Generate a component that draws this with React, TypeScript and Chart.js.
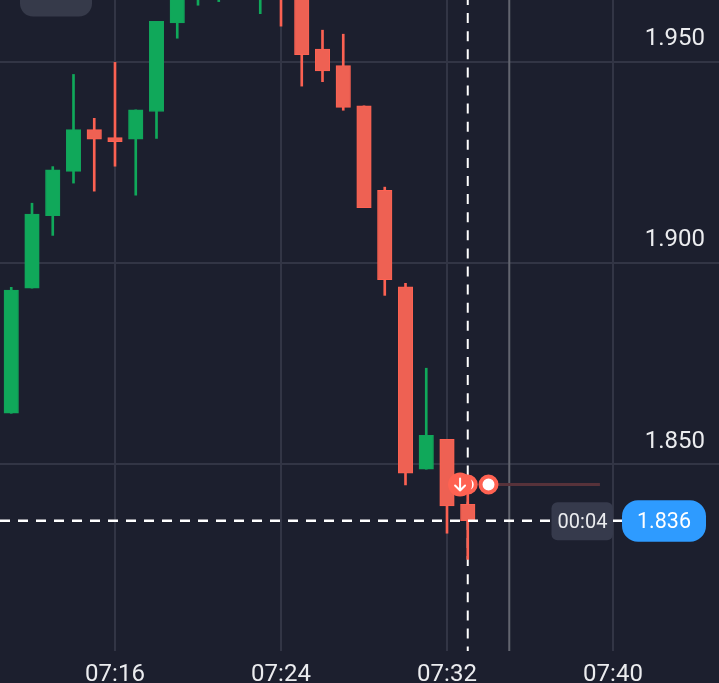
import React, { useEffect, useRef } from "react";
import { Chart, registerables } from "chart.js";

Chart.register(...registerables);

// minutes after 07:00
const minutes = [11, 12, 13, 14, 15, 16, 17, 18, 19, 20, 21, 22, 23, 24, 25, 26, 27, 28, 29, 30, 31, 32, 33];
const opens = [1.8627, 1.8938, 1.9118, 1.9228, 1.9332, 1.9312, 1.9308, 1.9377, 1.9597, 1.968, 1.97, 1.972, 1.97, 1.978, 1.975, 1.9532, 1.9491, 1.9391, 1.9181, 1.8941, 1.8488, 1.8562, 1.8401];
const closes = [1.8933, 1.9122, 1.9232, 1.9332, 1.9308, 1.9302, 1.9381, 1.9601, 1.972, 1.975, 1.977, 1.978, 1.978, 1.97, 1.9518, 1.9478, 1.9387, 1.9138, 1.8959, 1.8478, 1.8572, 1.8397, 1.836];
const highs = [1.894, 1.9149, 1.924, 1.9469, 1.936, 1.9499, 1.9381, 1.9601, 1.975, 1.978, 1.979, 1.98, 1.981, 1.982, 1.978, 1.9579, 1.9569, 1.9391, 1.9189, 1.895, 1.8739, 1.8562, 1.845];
const lows = [1.8627, 1.8938, 1.9069, 1.9199, 1.9179, 1.9241, 1.9169, 1.931, 1.9559, 1.9641, 1.965, 1.969, 1.962, 1.9589, 1.944, 1.9451, 1.938, 1.9138, 1.892, 1.8449, 1.8488, 1.8329, 1.8264];

const xTicks = [16, 24, 32, 40];
const yTicks = [1.85, 1.9, 1.95];
const currentPrice = 1.836;
const currentMinute = 33;
const expiryMinute = 35;
const tradePrice = 1.845;
const tradeEntryMinute = 32.63;
const tradeMarkMinute = 34;
const tradeEndMinute = 39.37;
const countdown = "00:04";

const BG = "#1c1f2e";
const GRID = "#323545";
const RED = "#ee6153";
const RED_EDGE = "#ff6252";
const GREEN = "#10a85a";
const GREEN_EDGE = "#12a45b";
const TEXT = "#ebecef";
const FONT = "Roboto";

const xMin = 10.458;
const xMax = 45.108;
const yMax = 1.9654;
const yMin = 1.80363;
const labelYMax = 1.95975;
const labelYMin = 1.79798;

const rr = (ctx: CanvasRenderingContext2D, x: number, y: number, w: number, h: number, r: number, fill: string) => {
  ctx.beginPath();
  ctx.roundRect(x, y, w, h, r);
  ctx.fillStyle = fill;
  ctx.fill();
};

const noPadding = (s: any) => {
  s.paddingTop = 0;
  s.paddingBottom = 0;
  s.paddingLeft = 0;
  s.paddingRight = 0;
};

const overlay = {
  id: "overlay",
  afterDatasetsDraw(chart: any) {
    const { ctx, scales } = chart;
    const px = scales.x.getPixelForValue(tradeEntryMinute);
    const py = scales.y.getPixelForValue(tradePrice);
    ctx.save();
    // arrow in the trade marker
    ctx.strokeStyle = "#ffffff";
    ctx.lineWidth = 2;
    ctx.lineCap = "round";
    ctx.lineJoin = "round";
    ctx.beginPath();
    ctx.moveTo(px, py - 6);
    ctx.lineTo(px, py + 6);
    ctx.moveTo(px - 5, py + 1);
    ctx.lineTo(px, py + 6);
    ctx.lineTo(px + 5, py + 1);
    ctx.stroke();

    // top chip
    rr(ctx, 20, -20, 72, 36.5, 13, "#363a4a");

    // countdown and price labels
    const cy = scales.y.getPixelForValue(currentPrice);
    rr(ctx, 551.5, cy - 18.5, 61.5, 38, 6, "#363a4c");
    rr(ctx, 622, cy - 20.5, 84, 41.5, 16, "#2e9bff");
    ctx.textAlign = "center";
    ctx.textBaseline = "middle";
    ctx.fillStyle = TEXT;
    ctx.font = `20px ${FONT}`;
    ctx.fillText(countdown, 582.5, cy + 2);
    ctx.fillStyle = "#ffffff";
    ctx.font = `21.5px ${FONT}`;
    ctx.fillText(currentPrice.toFixed(3), 664, cy + 1.5);
    ctx.restore();
  },
};

export default function App() {
  const ref = useRef<HTMLCanvasElement>(null);

  useEffect(() => {
    if (!ref.current) return;
    const isUp = (i: number) => closes[i] >= opens[i];
    const bodyFill = minutes.map((_, i) => (isUp(i) ? GREEN : RED));
    const bodyEdge = minutes.map((_, i) => (isUp(i) ? GREEN_EDGE : RED_EDGE));
    const wickFill = minutes.map((_, i) => (isUp(i) ? GREEN : "#fb6152"));

    const chart = new Chart(ref.current, {
      type: "bar",
      data: {
        datasets: [
          {
            type: "line",
            order: 10,
            data: [{ x: expiryMinute, y: yMax }, { x: expiryMinute, y: yMin }],
            borderColor: "#62656f",
            borderWidth: 2,
            pointRadius: 0,
          },
          {
            type: "line",
            order: 9,
            data: [{ x: currentMinute, y: yMax }, { x: currentMinute, y: yMin }],
            borderColor: "#ffffff",
            borderWidth: 2,
            borderDash: [10, 8.1],
            borderDashOffset: 5,
            pointRadius: 0,
          },
          {
            type: "line",
            order: 8,
            data: [{ x: tradeMarkMinute, y: tradePrice }, { x: tradeEndMinute, y: tradePrice }],
            borderColor: "#57323a",
            borderWidth: 3,
            pointRadius: 0,
          },
          {
            type: "bar",
            order: 7,
            data: minutes.map((m, i) => ({ x: m, y: [lows[i], highs[i]] })),
            backgroundColor: wickFill,
            borderWidth: 0,
            barThickness: 2,
            grouped: false,
          },
          {
            type: "bar",
            order: 6,
            data: minutes.map((m, i) => ({ x: m, y: [opens[i], closes[i]] })),
            backgroundColor: bodyFill,
            borderColor: bodyEdge,
            borderWidth: 1,
            borderSkipped: false,
            barThickness: 14.5,
            grouped: false,
          },
          {
            type: "line",
            order: 5,
            data: [{ x: xMin, y: currentPrice }, { x: 42.27, y: currentPrice }],
            borderColor: "#ffffff",
            borderWidth: 2.5,
            borderDash: [10, 8],
            pointRadius: 0,
          },
          {
            type: "line",
            order: 4,
            data: [{ x: currentMinute, y: tradePrice }, { x: tradeMarkMinute, y: tradePrice }],
            showLine: false,
            pointRadius: 8,
            pointBorderWidth: 4,
            pointBorderColor: RED_EDGE,
            pointBackgroundColor: "#ffffff",
          },
          {
            type: "line",
            order: 3,
            data: [{ x: tradeEntryMinute, y: tradePrice }],
            showLine: false,
            pointRadius: 12,
            pointBorderWidth: 0,
            pointBackgroundColor: RED_EDGE,
          },
        ],
      } as any,
      options: {
        animation: false,
        responsive: false,
        events: [],
        layout: { padding: 0, autoPadding: false },
        plugins: { legend: { display: false }, tooltip: { enabled: false } },
        scales: {
          x: {
            type: "linear",
            offset: false,
            min: xMin,
            max: xMax,
            afterBuildTicks: (s: any) => { s.ticks = xTicks.map((value) => ({ value })); },
            afterFit: (s: any) => { s.height = 32; noPadding(s); },
            grid: { offset: false, color: GRID, lineWidth: 2, drawTicks: false },
            border: { display: false },
            ticks: {
              autoSkip: false,
              maxRotation: 0,
              padding: 10,
              color: TEXT,
              font: { family: FONT, size: 24 },
              callback: (v: any) => `07:${String(v).padStart(2, "0")}`,
            },
          },
          y: {
            type: "linear",
            position: "right",
            min: yMin,
            max: yMax,
            afterBuildTicks: (s: any) => { s.ticks = yTicks.map((value) => ({ value })); },
            afterFit: (s: any) => { s.width = 0; noPadding(s); },
            grid: { color: GRID, lineWidth: 2, drawTicks: false },
            border: { display: false },
            ticks: { display: false },
          },
          yLabels: {
            type: "linear",
            position: "right",
            min: labelYMin,
            max: labelYMax,
            afterBuildTicks: (s: any) => { s.ticks = yTicks.map((value) => ({ value })); },
            afterFit: (s: any) => { s.width = 0; noPadding(s); },
            grid: { display: false, drawTicks: false },
            border: { display: false },
            ticks: {
              mirror: true,
              padding: -14,
              color: TEXT,
              font: { family: FONT, size: 24 },
              callback: (v: any) => Number(v).toFixed(3),
            },
          },
        },
      } as any,
      plugins: [overlay],
    });
    return () => chart.destroy();
  }, []);

  return (
    <div style={{ position: "fixed", left: 0, top: 0, width: 719, height: 683, background: BG, overflow: "hidden" }}>
      <canvas ref={ref} width={719} height={683} style={{ display: "block" }} />
    </div>
  );
}
